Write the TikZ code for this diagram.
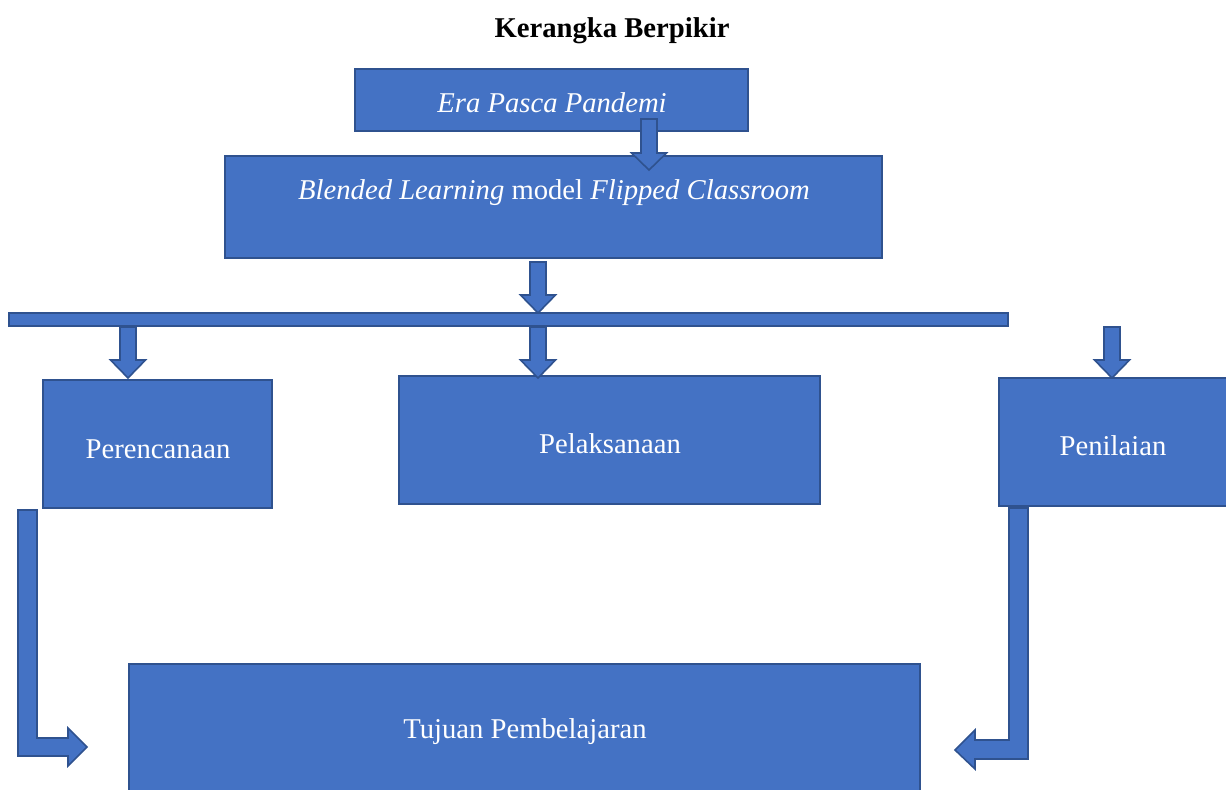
\documentclass[tikz,border=0pt]{standalone}
\usepackage{fontspec}
\setmainfont{Liberation Serif}
\usetikzlibrary{fit}
\definecolor{boxfill}{HTML}{4472C4}
\definecolor{boxline}{HTML}{2F528F}
\newcommand\bdarrow[4]{%
  \draw[barrow] (#1-8,#2) -- (#1+8,#2) -- (#1+8,#3) -- (#1+17.5,#3) -- (#1,#4) -- (#1-17.5,#3) -- (#1-8,#3) -- cycle;}
\begin{document}
\begin{tikzpicture}[x=0.75pt,y=-0.75pt,
  box/.style={draw=boxline, fill=boxfill, line width=1.3pt, inner sep=0pt},
  lbl/.style={text=white, font=\fontsize{21.5}{26}\selectfont, inner sep=0pt},
  barrow/.style={draw=boxline, fill=boxfill, line width=1.2pt, line join=miter}]
\useasboundingbox (0,0) rectangle (1226,789);
\node[font=\bfseries\fontsize{21.5}{26}\selectfont, inner sep=0pt] (title) at (612,31) {Kerangka Berpikir};
% boxes
\node[box, fit={(355,69) (748,131)}] (b1) {};
\node[box, fit={(225,156) (882,258)}] (b2) {};
\node[box, fit={(9,313) (1008,326)}] (bar) {};
\node[box, fit={(43,380) (272,508)}] (b3) {};
\node[box, fit={(399,376) (820,504)}] (b4) {};
\node[box, fit={(999,378) (1232,506)}] (b5) {};
\node[box, fit={(129,664) (920,800)}] (b6) {};
% labels
\node[lbl] (t1) at (552,103) {\itshape Era Pasca Pandemi};
\node[lbl] (t2) at (554,193) {\textit{Blended Learning} model \textit{Flipped Classroom}};
\node[lbl] (t3) at (158,449) {Perencanaan};
\node[lbl] (t4) at (610,444) {Pelaksanaan};
\node[lbl] (t5) at (1113,446) {Penilaian};
\node[lbl] (t6) at (525,732) {Tujuan Pembelajaran};
% block arrows
\bdarrow{649}{119}{153}{170}
\bdarrow{538}{262}{295}{313}
\bdarrow{128}{327}{360}{378}
\bdarrow{538}{327}{360}{378}
\bdarrow{1112}{327}{360}{378}
\draw[barrow] (18,510) -- (37,510) -- (37,738) -- (68,738) -- (68,728) -- (87,747) -- (68,766) -- (68,756) -- (18,756) -- cycle;
\draw[barrow] (1009,508) -- (1028,508) -- (1028,759) -- (975,759) -- (975,769) -- (955,750) -- (975,730) -- (975,740) -- (1009,740) -- cycle;
\end{tikzpicture}
\end{document}
